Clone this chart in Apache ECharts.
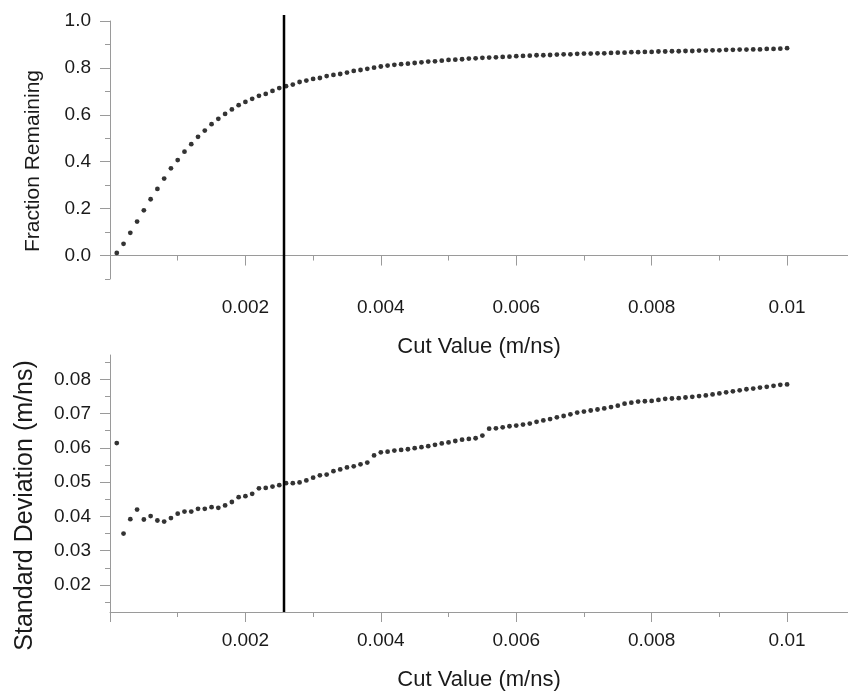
<!DOCTYPE html>
<html>
<head>
<meta charset="utf-8">
<script src="https://cdn.jsdelivr.net/npm/echarts@6/dist/echarts.min.js"></script>
<style>
  html, body { margin: 0; padding: 0; background: #fff; }
  #main { width: 848px; height: 698px; }
</style>
</head>
<body>
<div id="main"></div>
<script>
// cut values (m/ns)
var cutValues = [
  0.0001,0.0002,0.0003,0.0004,0.0005,0.0006,0.0007,0.0008,0.0009,0.0010,
  0.0011,0.0012,0.0013,0.0014,0.0015,0.0016,0.0017,0.0018,0.0019,0.0020,
  0.0021,0.0022,0.0023,0.0024,0.0025,0.0026,0.0027,0.0028,0.0029,0.0030,
  0.0031,0.0032,0.0033,0.0034,0.0035,0.0036,0.0037,0.0038,0.0039,0.0040,
  0.0041,0.0042,0.0043,0.0044,0.0045,0.0046,0.0047,0.0048,0.0049,0.0050,
  0.0051,0.0052,0.0053,0.0054,0.0055,0.0056,0.0057,0.0058,0.0059,0.0060,
  0.0061,0.0062,0.0063,0.0064,0.0065,0.0066,0.0067,0.0068,0.0069,0.0070,
  0.0071,0.0072,0.0073,0.0074,0.0075,0.0076,0.0077,0.0078,0.0079,0.0080,
  0.0081,0.0082,0.0083,0.0084,0.0085,0.0086,0.0087,0.0088,0.0089,0.0090,
  0.0091,0.0092,0.0093,0.0094,0.0095,0.0096,0.0097,0.0098,0.0099,0.0100
];

// fraction remaining
var fractionRemaining = [
  0.011,0.050,0.097,0.145,0.193,0.240,0.284,0.328,0.372,0.407,
  0.443,0.475,0.506,0.533,0.560,0.583,0.604,0.623,0.641,0.655,
  0.668,0.681,0.689,0.702,0.714,0.722,0.729,0.740,0.746,0.753,
  0.757,0.765,0.770,0.774,0.780,0.787,0.791,0.796,0.801,0.806,
  0.810,0.813,0.816,0.818,0.821,0.824,0.827,0.828,0.831,0.834,
  0.835,0.837,0.840,0.841,0.843,0.844,0.845,0.847,0.848,0.850,
  0.851,0.852,0.854,0.854,0.855,0.857,0.858,0.858,0.860,0.861,
  0.861,0.862,0.862,0.864,0.865,0.865,0.867,0.867,0.868,0.868,
  0.870,0.870,0.871,0.871,0.872,0.872,0.874,0.874,0.875,0.875,
  0.877,0.877,0.878,0.878,0.879,0.879,0.881,0.881,0.882,0.884
];

// standard deviation (m/ns)
var stdDeviation = [
  0.0614,0.0350,0.0392,0.0420,0.0391,0.0401,0.0388,0.0385,0.0395,0.0408,
  0.0414,0.0414,0.0422,0.0422,0.0427,0.0425,0.0432,0.0442,0.0456,0.0459,
  0.0466,0.0482,0.0483,0.0487,0.0491,0.0497,0.0497,0.0499,0.0505,0.0513,
  0.0520,0.0522,0.0532,0.0537,0.0543,0.0546,0.0552,0.0557,0.0578,0.0587,
  0.0589,0.0592,0.0594,0.0596,0.0599,0.0602,0.0605,0.0609,0.0613,0.0616,
  0.0620,0.0624,0.0626,0.0628,0.0636,0.0656,0.0657,0.0660,0.0663,0.0665,
  0.0668,0.0671,0.0676,0.0680,0.0684,0.0689,0.0693,0.0698,0.0703,0.0706,
  0.0709,0.0712,0.0715,0.0719,0.0723,0.0729,0.0732,0.0735,0.0736,0.0737,
  0.0740,0.0743,0.0744,0.0745,0.0747,0.0749,0.0751,0.0753,0.0756,0.0759,
  0.0762,0.0765,0.0768,0.0771,0.0773,0.0776,0.0778,0.0781,0.0784,0.0785
];

// chosen cut (vertical line), drawn on a 0..1 helper axis
var chosenCut = 0.00257;
var cutLineX = [chosenCut, chosenCut];
var cutLineY = [0, 1];

// tick positions
var xMajorTicks = [0, 0.002, 0.004, 0.006, 0.008, 0.01];
var xLabels = [0.002, 0.004, 0.006, 0.008, 0.01];
var xMinorTicks = [0.001, 0.003, 0.005, 0.007, 0.009];
var fracMajorTicks = [0, 0.2, 0.4, 0.6, 0.8, 1.0];
var fracMinorTicks = [-0.1, 0.1, 0.3, 0.5, 0.7, 0.9];
var sdMajorTicks = [0.02, 0.03, 0.04, 0.05, 0.06, 0.07, 0.08];
var sdMinorTicks = [0.015, 0.025, 0.035, 0.045, 0.055, 0.065, 0.075, 0.085];

var FONT = 'Liberation Sans';
var AXIS_GREY = '#9a9a9a';
var TEXT_COLOR = '#1a1a1a';
var X_MAX = 0.0109;

function pairs(xs, ys) {
  var out = [];
  for (var i = 0; i < xs.length; i++) {
    out.push([xs[i], ys[i]]);
  }
  return out;
}

// x axis (major ticks + labels + title)
function majorX(grid) {
  return {
    type: 'value', gridIndex: grid, position: 'bottom', min: 0, max: X_MAX,
    name: 'Cut Value (m/ns)',
    nameLocation: 'middle', nameGap: 57,
    nameTextStyle: { fontFamily: FONT, fontSize: 22, color: TEXT_COLOR },
    axisLine: { show: true, lineStyle: { color: AXIS_GREY, width: 1 } },
    axisTick: { show: true, length: 10, customValues: xMajorTicks, lineStyle: { color: AXIS_GREY } },
    axisLabel: {
      show: true, customValues: xLabels, margin: 19,
      fontFamily: FONT, fontSize: 19, color: TEXT_COLOR,
      formatter: function (v) { return String(Number(v.toFixed(3))); }
    },
    splitLine: { show: false }
  };
}

// x axis (minor ticks only)
function minorX(grid) {
  return {
    type: 'value', gridIndex: grid, position: 'bottom', min: 0, max: X_MAX,
    axisLine: { show: false },
    axisTick: { show: true, length: 5, customValues: xMinorTicks, lineStyle: { color: AXIS_GREY } },
    axisLabel: { show: false },
    splitLine: { show: false }
  };
}

function majorY(grid, min, max, ticks, digits, name, nameSize, nameGap, namePad) {
  return {
    type: 'value', gridIndex: grid, position: 'left', min: min, max: max,
    name: name, nameLocation: 'middle', nameGap: nameGap,
    nameTextStyle: { fontFamily: FONT, fontSize: nameSize, color: TEXT_COLOR, padding: namePad },
    axisLine: { show: true, lineStyle: { color: AXIS_GREY, width: 1 } },
    axisTick: { show: true, length: 10, customValues: ticks, lineStyle: { color: AXIS_GREY } },
    axisLabel: {
      show: true, customValues: ticks, margin: 19,
      fontFamily: FONT, fontSize: 19, color: TEXT_COLOR,
      formatter: function (v) { return v.toFixed(digits); }
    },
    splitLine: { show: false }
  };
}

function minorY(grid, min, max, ticks) {
  return {
    type: 'value', gridIndex: grid, position: 'left', min: min, max: max,
    axisLine: { show: false },
    axisTick: { show: true, length: 5, customValues: ticks, lineStyle: { color: AXIS_GREY } },
    axisLabel: { show: false },
    splitLine: { show: false }
  };
}

var chart = echarts.init(document.getElementById('main'), null, { renderer: 'canvas' });

var option = {
  backgroundColor: '#ffffff',
  animation: false,
  grid: [
    { left: 110, right: 0, top: 21, height: 258 },
    { left: 110, right: 0, top: 355, height: 257 },
    // full-height grid only for the cut line
    { left: 110, right: 0, top: 15, height: 597 }
  ],
  xAxis: [
    majorX(0), minorX(0),
    majorX(1), minorX(1),
    { type: 'value', gridIndex: 2, min: 0, max: X_MAX, show: false }
  ],
  yAxis: [
    majorY(0, -0.1, 1.0, fracMajorTicks, 1, 'Fraction Remaining', 21, 66, [0, 22, 0, 0]),
    minorY(0, -0.1, 1.0, fracMinorTicks),
    majorY(1, 0.0121, 0.0871, sdMajorTicks, 2, 'Standard Deviation (m/ns)', 25, 72, [0, 44, 0, 0]),
    minorY(1, 0.0121, 0.0871, sdMinorTicks),
    { type: 'value', gridIndex: 2, min: 0, max: 1, show: false }
  ],
  series: [
    {
      type: 'scatter', xAxisIndex: 0, yAxisIndex: 0,
      symbolSize: 4.8, itemStyle: { color: '#000' },
      data: pairs(cutValues, fractionRemaining)
    },
    {
      type: 'scatter', xAxisIndex: 2, yAxisIndex: 2,
      symbolSize: 4.8, itemStyle: { color: '#000' },
      data: pairs(cutValues, stdDeviation)
    },
    {
      type: 'line', xAxisIndex: 4, yAxisIndex: 4,
      symbol: 'none', silent: true,
      lineStyle: { color: '#000', width: 2.5 },
      data: pairs(cutLineX, cutLineY)
    }
  ]
};

chart.setOption(option);
</script>
</body>
</html>
